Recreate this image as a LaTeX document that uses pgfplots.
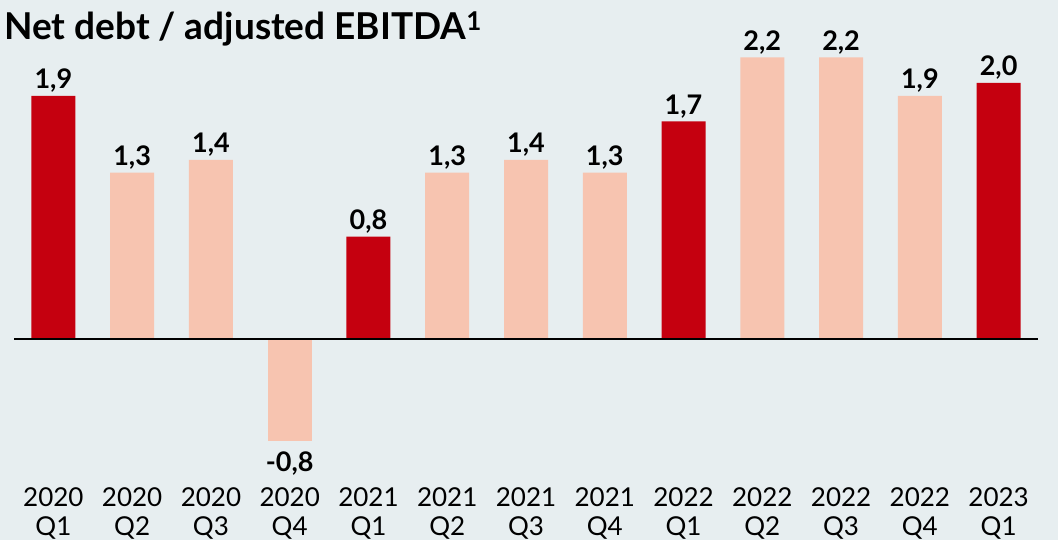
\documentclass[border=0pt]{standalone}
\usepackage{pgfplots}
\pgfplotsset{compat=1.18}
\usepackage{fontspec}
\setmainfont{Lato}
\definecolor{bg}{HTML}{E7EEF0}
\definecolor{dred}{HTML}{C5000F}
\definecolor{lsal}{HTML}{F7C4B0}
\begin{document}
\begin{tikzpicture}[x=1pt,y=1pt]
\fill[bg] (0,0) rectangle (1058,540);
\node[anchor=base west, inner sep=0pt, font=\fontsize{37}{42}\selectfont\bfseries] at (4,500) {Net debt / adjusted EBITDA\textsuperscript{1}};
\begin{axis}[
  at={(14pt,73pt)}, anchor=south west,
  scale only axis, width=1024pt, height=435.2pt,
  xmin=-0.5, xmax=12.5, ymin=-1.0, ymax=2.4,
  axis line style={draw=none},
  ytick=\empty,
  xtick={0,...,12},
  xticklabels={{2020\\Q1},{2020\\Q2},{2020\\Q3},{2020\\Q4},{2021\\Q1},{2021\\Q2},{2021\\Q3},{2021\\Q4},{2022\\Q1},{2022\\Q2},{2022\\Q3},{2022\\Q4},{2023\\Q1}},
  xticklabel style={align=center, font=\fontsize{26}{29.5}\selectfont, yshift=-17pt},
  major tick length=0pt,
  ybar, bar width=44pt, bar shift=0pt,
  nodes near coords, point meta=explicit symbolic,
  every node near coord/.append style={font=\fontsize{27}{30}\selectfont\bfseries, inner sep=3pt},
  clip=false,
]
\addplot[draw=none, fill=dred] table[meta=l] {
x y l
0 1.9 1,9
4 0.8 0,8
8 1.7 1,7
12 2.0 2,0
};
\addplot[draw=none, fill=lsal] table[meta=l] {
x y l
1 1.3 1,3
2 1.4 1,4
5 1.3 1,3
6 1.4 1,4
7 1.3 1,3
9 2.2 2,2
10 2.2 2,2
11 1.9 1,9
};
\addplot[draw=none, fill=lsal, every node near coord/.append style={anchor=north, inner sep=10pt}] table[meta=l] {
x y l
3 -0.8 -0,8
};
\draw[black, line width=2pt] (axis cs:-0.5,0) -- (axis cs:12.5,0);
\end{axis}
\end{tikzpicture}
\end{document}
